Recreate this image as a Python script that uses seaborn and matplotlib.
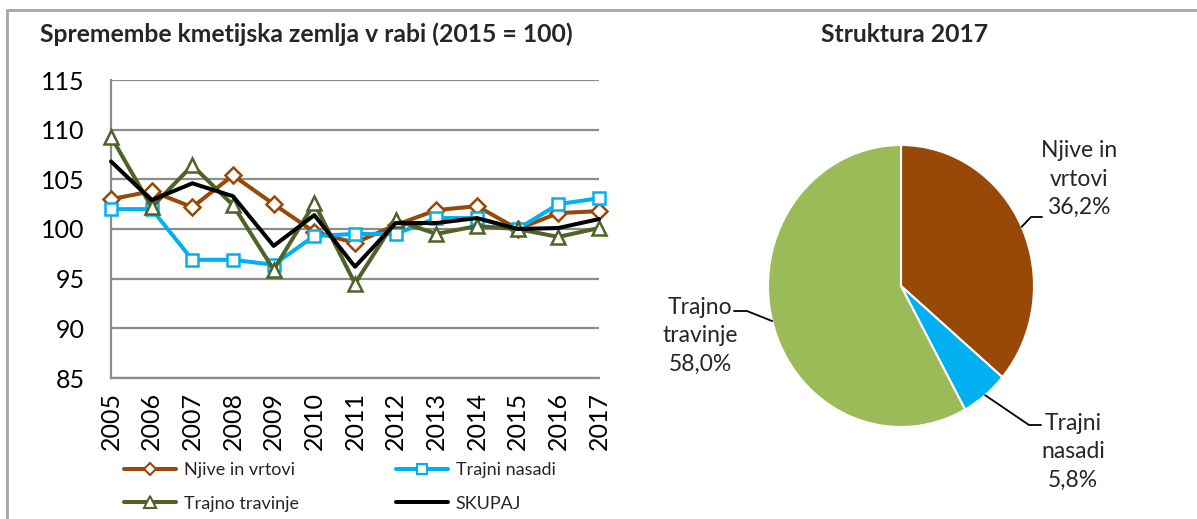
import numpy as np
import pandas as pd
import matplotlib
matplotlib.use("Agg")
import matplotlib.pyplot as plt
from matplotlib.lines import Line2D
import seaborn as sns

# ---------------- data ----------------
years = [2005, 2006, 2007, 2008, 2009, 2010, 2011, 2012, 2013, 2014, 2015, 2016, 2017]
njive = [103.0, 103.8, 102.2, 105.4, 102.5, 99.7, 98.6, 100.4, 101.9, 102.3, 100.0, 101.6, 101.8]
nasadi = [102.0, 102.0, 96.9, 96.9, 96.4, 99.3, 99.5, 99.5, 101.1, 101.1, 100.0, 102.5, 103.1]
travinje = [109.3, 102.2, 106.4, 102.4, 95.9, 102.6, 94.5, 100.9, 99.5, 100.3, 100.0, 99.2, 100.1]
skupaj = [106.8, 102.9, 104.6, 103.3, 98.3, 101.4, 96.2, 100.6, 100.6, 101.1, 100.0, 100.1, 101.0]
series_names = ["Njive in vrtovi", "Trajni nasadi", "Trajno travinje", "SKUPAJ"]

pie_labels = ["Njive in\nvrtovi", "Trajni\nnasadi", "Trajno\ntravinje"]
pie_shares = [36.2, 5.8, 58.0]

line_title = "Spremembe kmetijska zemlja v rabi (2015 = 100)"
pie_title = "Struktura 2017"
y_ticks = [85, 90, 95, 100, 105, 110, 115]

# ---------------- style ----------------
sns.set_theme(style="white")
plt.rcParams["font.family"] = ["Lato", "DejaVu Sans"]

W, H = 1197, 519
fig = plt.figure(figsize=(W / 100, H / 100), dpi=100)
fig.patch.set_facecolor("white")

def fx(px):
    return px / W

def fy(py):
    return 1 - py / H

# frame lines (top and left)
fig.add_artist(Line2D([fx(7), 1.0], [fy(10), fy(10)], color="#a6a6a6", lw=2, transform=fig.transFigure))
fig.add_artist(Line2D([fx(7), fx(7)], [fy(10), 0.0], color="#a6a6a6", lw=2, transform=fig.transFigure))

# ---------------- line chart ----------------
df = pd.DataFrame({
    "year": years * 4,
    "value": njive + nasadi + travinje + skupaj,
    "series": sum([[n] * len(years) for n in series_names], []),
})

ax = fig.add_axes([fx(111), fy(378), fx(599) - fx(111), fy(80) - fy(378)])
styles = {
    "Njive in vrtovi": dict(color="#984807", marker="D", ms=8, lms=6.5),
    "Trajni nasadi": dict(color="#00B0F0", marker="s", ms=8, lms=6.5),
    "Trajno travinje": dict(color="#4F6228", marker="^", ms=10.5, lms=8),
    "SKUPAJ": dict(color="black", marker=None, ms=0, lms=0),
}
handles = {}
for i, name in enumerate(series_names):
    st = styles[name]
    sub = df[df["series"] == name]
    kw = dict(color=st["color"], linewidth=2.9, clip_on=False, zorder=3 + i)
    hkw = dict(color=st["color"], linewidth=2.9)
    if st["marker"]:
        kw.update(marker=st["marker"], markersize=st["ms"], markerfacecolor="white",
                  markeredgecolor=st["color"], markeredgewidth=1.8)
        hkw.update(marker=st["marker"], markersize=st["lms"], markerfacecolor="white",
                   markeredgecolor=st["color"], markeredgewidth=1.5)
    sns.lineplot(data=sub, x="year", y="value", ax=ax, legend=False, **kw)
    handles[name] = Line2D([], [], **hkw)

ax.set_xlim(years[0], years[-1])
ax.set_ylim(y_ticks[0], y_ticks[-1])
ax.set_yticks(y_ticks)
ax.set_xticks(years)
ax.set_xticklabels([str(y) for y in years], rotation=90)
ax.set_xlabel("")
ax.set_ylabel("")
ax.grid(axis="y", color="#8c8c8c", lw=1.6)
ax.grid(axis="x", visible=False)
ax.set_axisbelow(True)
for s in ("top", "right"):
    ax.spines[s].set_visible(False)
for s in ("left", "bottom"):
    ax.spines[s].set_color("#8c8c8c")
    ax.spines[s].set_linewidth(1.6)
ax.tick_params(axis="y", direction="out", length=7, width=1.6, color="#8c8c8c",
               labelsize=18, pad=12, labelcolor="black")
ax.tick_params(axis="x", direction="out", length=7, width=1.6, color="#8c8c8c",
               labelsize=18, pad=3, labelcolor="black")
ax.set_facecolor("white")

order = ["Njive in vrtovi", "Trajno travinje", "Trajni nasadi", "SKUPAJ"]
fig.legend([handles[n] for n in order], order, ncol=2, loc="center left",
           bbox_to_anchor=(fx(124), fy(487)), frameon=False, fontsize=13,
           handlelength=2.9, handletextpad=0.4, columnspacing=5.4, labelspacing=0.95,
           borderpad=0, borderaxespad=0)

fig.text(fx(40), fy(34), line_title, fontsize=17.8, fontweight="bold", va="center", ha="left")

# ---------------- pie chart ----------------
cx, cy, rx, ry = 901, 286, 133, 141
ax2 = fig.add_axes([fx(cx - rx), fy(cy + ry), 2 * rx / W, 2 * ry / H])
wedges, _ = ax2.pie(pie_shares, colors=["#984807", "#00B0F0", "#9BBB59"], startangle=90,
                    counterclock=False, radius=1,
                    wedgeprops=dict(edgecolor="white", linewidth=1.5))
ax2.set_aspect("auto")
ax2.set_xlim(-1, 1)
ax2.set_ylim(-1, 1)
ax2.axis("off")

# label placement (pixel coordinates converted to pie data units)
label_pos = [(1079, 179), (1073, 452), (700, 336)]
leader_end = [(1042, 217), (1041, 425), (734, 311)]
leader_elbow = [(1031, 217), (1029, 425), (747, 311)]
for w, lab, share, lp, le, lb in zip(wedges, pie_labels, pie_shares, label_pos, leader_end, leader_elbow):
    ang = np.deg2rad((w.theta1 + w.theta2) / 2)
    ex, ey = np.cos(ang), np.sin(ang)
    bx, by = (lb[0] - cx) / rx, (cy - lb[1]) / ry
    tx, ty = (le[0] - cx) / rx, (cy - le[1]) / ry
    ax2.plot([ex, bx, tx], [ey, by, ty], color="black", lw=1.3, clip_on=False)
    txt = f"{lab}\n{share:.1f}%".replace(".", ",")
    ax2.text((lp[0] - cx) / rx, (cy - lp[1]) / ry, txt, ha="center", va="center",
             fontsize=16.5, linespacing=1.42, clip_on=False)

fig.text(fx(905), fy(34), pie_title, fontsize=17.8, fontweight="bold", va="center", ha="center")

fig.savefig("out.png", dpi=100, facecolor="white")
